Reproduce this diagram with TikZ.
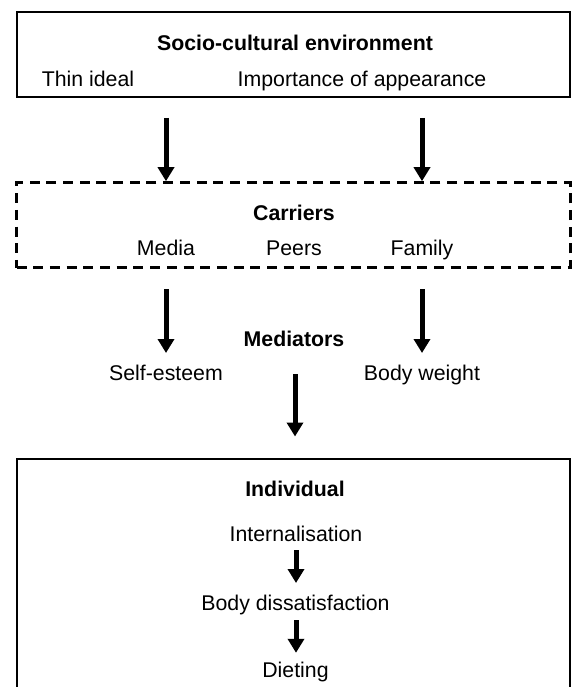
\documentclass[tikz,border=0pt]{standalone}
\usepackage{fontspec}
\setmainfont{Liberation Sans}
\usetikzlibrary{arrows.meta}
\begin{document}
\begin{tikzpicture}[x=1pt,y=-1pt,
  txt/.style={font=\fontsize{21.3}{25}\selectfont, inner sep=0pt, anchor=base, text height=15pt, text depth=4.5pt},
  bold/.style={txt, font=\fontsize{21.3}{25}\selectfont\bfseries},
  box/.style={draw, line width=2pt, inner sep=0pt, minimum width=553.5pt},
  dbox/.style={draw, line width=3pt, dash pattern=on 10pt off 6.7pt, inner sep=0pt, minimum width=553.5pt},
  arr/.style={line width=5pt, -{Triangle[width=16pt,length=14pt]}}]
\useasboundingbox (0,0) rectangle (571,687);
% boxes
\node[box, minimum height=85.5pt] (env) at (293.25,54.75) {};
\node[dbox, minimum height=85pt] (car) at (293.25,225.2) {};
\node[box, minimum height=260pt] (ind) at (293.25,589) {};
% socio-cultural environment
\node[bold] (envt) at (295,51) {Socio-cultural environment};
\node[txt] (thin) at (88,87) {Thin ideal};
\node[txt] (imp) at (362,87) {Importance of appearance};
% carriers
\node[bold] (cart) at (294,220) {Carriers};
\node[txt] (media) at (166,255) {Media};
\node[txt] (peers) at (294,255) {Peers};
\node[txt] (family) at (422,255) {Family};
% mediators
\node[bold] (medt) at (294,346.7) {Mediators};
\node[txt] (self) at (166,380.7) {Self-esteem};
\node[txt] (bw) at (422,380.7) {Body weight};
% individual
\node[bold] (indt) at (295,496.7) {Individual};
\node[txt] (intern) at (296,541.7) {Internalisation};
\node[txt] (bd) at (295.5,610.7) {Body dissatisfaction};
\node[txt] (diet) at (295.5,677) {Dieting};
% arrows
\coordinate (s1) at (166,118);
\coordinate (s2) at (422,118);
\coordinate (s3) at (295,374);
\draw[arr] (s1) -- (s1 |- car.north);
\draw[arr] (s2) -- (s2 |- car.north);
\draw[arr, shorten <=20pt, shorten >=12.5pt] (car.south -| self) -- (self.north);
\draw[arr, shorten <=20pt, shorten >=12.5pt] (car.south -| bw) -- (bw.north);
\draw[arr, shorten >=21.5pt] (s3) -- (s3 |- ind.north);
\draw[arr, shorten <=4pt, shorten >=12.5pt] (intern.south -| 296,0) -- (bd.north -| 296,0);
\draw[arr, shorten <=5pt, shorten >=9pt] (bd.south -| 296,0) -- (diet.north -| 296,0);
\end{tikzpicture}
\end{document}
